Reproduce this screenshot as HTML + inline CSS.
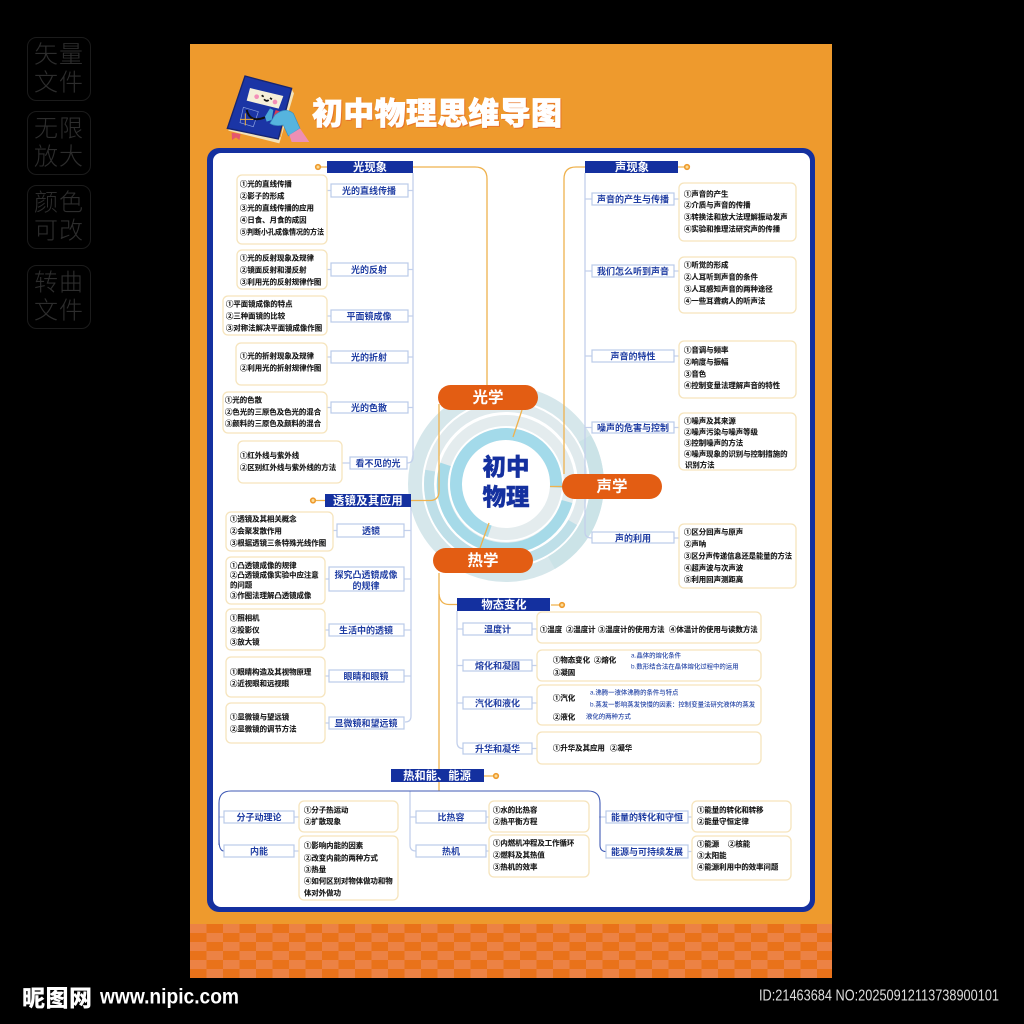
<!DOCTYPE html>
<html lang="zh"><head><meta charset="utf-8"><title>初中物理思维导图</title>
<style>
html,body{margin:0;padding:0;background:#000;width:1024px;height:1024px;overflow:hidden}
svg{display:block;font-family:"Liberation Sans","Noto Sans CJK SC",sans-serif}
text{dominant-baseline:central}
.t text,.t{font-size:7.4px;font-weight:700;fill:#161616;stroke:#161616;stroke-width:.12}
.l text{font-size:9px;font-weight:700;fill:#1F3DA3;text-anchor:middle;transform:translateY(.5px)}
.lb rect{fill:#fff;stroke:#BBCBE8;stroke-width:1.2}
.bx rect{fill:#fff;stroke:#F6E4BC;stroke-width:1.3}
.h rect{fill:#14309F}
.h text{font-size:11.3px;font-weight:700;fill:#fff;text-anchor:middle;transform:translateY(1px)}
.p rect{fill:#E35D13}
.p text{font-size:15.5px;font-weight:700;fill:#fff;text-anchor:middle;transform:translateY(1px)}
.o{fill:none;stroke:#EFB24E;stroke-width:1.3}
.c{fill:none;stroke:#C3D0EC;stroke-width:1.3}
.d{fill:none;stroke:#3F5AB5;stroke-width:1.1}
.n circle{fill:#FBDC97;stroke:#EE9A2D;stroke-width:1.6}
.b text{font-size:6.4px;font-weight:500;fill:#2A49A8}
.w text{font-size:24px;font-weight:300;fill:#2D2D2D}
.w rect{fill:none;stroke:#1B1B1B;stroke-width:1}
</style></head><body>
<svg width="1024" height="1024" viewBox="0 0 1024 1024" xmlns="http://www.w3.org/2000/svg">
<defs>
<pattern id="ck" x="190" y="924" width="33" height="18" patternUnits="userSpaceOnUse">
<rect width="33" height="18" fill="#EC8244"/>
<rect x="16.5" width="16.5" height="9" fill="#E9721A"/>
<rect y="9" width="16.5" height="9" fill="#E9721A"/>
</pattern>
</defs>
<rect width="1024" height="1024" fill="#000"/>

<g class="w">
<rect x="27.5" y="37.5" width="63" height="63" rx="9"/><rect x="27.5" y="111.5" width="63" height="63" rx="9"/><rect x="27.5" y="185.5" width="63" height="63" rx="9"/><rect x="27.5" y="265.5" width="63" height="63" rx="9"/>
<text x="34" y="55">矢</text><text x="59" y="55">量</text><text x="34" y="83">文</text><text x="59" y="83">件</text>
<text x="34" y="129">无</text><text x="59" y="129">限</text><text x="34" y="157">放</text><text x="59" y="157">大</text>
<text x="34" y="203">颜</text><text x="59" y="203">色</text><text x="34" y="231">可</text><text x="59" y="231">改</text>
<text x="34" y="283">转</text><text x="59" y="283">曲</text><text x="34" y="311">文</text><text x="59" y="311">件</text>
</g>

<rect x="190" y="44" width="642" height="934" fill="#EE9A2D"/>
<rect x="190" y="924" width="642" height="54" fill="url(#ck)"/>

<!-- book icon -->
<g transform="translate(190,60) scale(.3333)">
<path d="M115 212 L268 250 L312 100 L302 82 L272 232 L118 198Z" fill="#F3E2B8"/>
<path d="M165 48 L305 85 L265 237 L112 205Z" fill="#1B35A5" stroke="#16246F" stroke-width="4"/>
<path d="M180 84 L280 108 L266 146 L170 122Z" fill="#F5EFD9"/>
<circle cx="200" cy="110" r="7" fill="#F48FB8"/><circle cx="255" cy="126" r="7" fill="#F48FB8"/>
<path d="M215 106 l6 4 M240 114 l6 4 M222 118 q8 8 14 2" stroke="#111" stroke-width="5" fill="none"/>
<path d="M160 142 L205 155 L190 200 L150 188Z" fill="none" stroke="#8FA4E0" stroke-width="2"/>
<path d="M170 150 Q180 190 225 172" fill="none" stroke="#111" stroke-width="6"/>
<path d="M150 178 H190 M166 160 V196" stroke="#F2B23E" stroke-width="3"/>
<path d="M125 218 L152 222 L148 240 L138 232 L126 240Z" fill="#E5566D"/>
<path d="M225 170 l15 -25 l10 5 l-5 30 l-15 5Z" fill="#4AA8D8"/>
<path d="M245 185 l12 -35 l12 4 l-6 40 Z" fill="#D93A52"/>
<path d="M255 165 Q285 140 310 160 L330 205 L295 228 L280 195 Q255 200 240 190Z" fill="#56B4DE" stroke="#3A8FC0" stroke-width="2"/>
<path d="M298 225 L330 205 L358 246 L305 246Z" fill="#EE8FB4"/>
</g>
<text x="313" y="115" font-size="31" font-weight="900" fill="#E8762A" stroke="#E8762A" stroke-width=".8" textLength="250">初中物理思维导图</text>
<text x="312" y="114" font-size="31" font-weight="900" fill="#fff" stroke="#fff" stroke-width=".7" textLength="250">初中物理思维导图</text>

<!-- panel -->
<rect x="207" y="148" width="608" height="764" rx="12" fill="#14309F"/>
<rect x="213" y="153" width="597" height="754" rx="8" fill="#fff"/>

<!-- rings -->
<g fill="none">
<circle cx="506" cy="484" r="91" stroke="#D6E7EB" stroke-width="14"/>
<path d="M584.8 438.5 A91 91 0 0 1 551.5 562.8" stroke="#CBE3E7" stroke-width="14"/>
<circle cx="506" cy="484" r="77" stroke="#E0EAED" stroke-width="10"/>
<path d="M572.7 522.5 A77 77 0 0 1 430.2 470.6" stroke="#BEDFE8" stroke-width="10"/>
<circle cx="506" cy="484" r="63.5" stroke="#E4ECEE" stroke-width="11"/>
<path d="M567 501.5 A63.5 63.5 0 1 1 445.6 464.4" stroke="#A6DAE8" stroke-width="11"/>
<circle cx="506" cy="484" r="50" stroke="#E4ECEE" stroke-width="12"/>
<path d="M489.7 531.3 A50 50 0 1 1 555.9 487.5" stroke="#A3DAEA" stroke-width="12"/>
</g>
<text x="506" y="467" font-size="23.5" font-weight="900" fill="#14309F" text-anchor="middle" stroke="#14309F" stroke-width=".4">初中</text>
<text x="506" y="497" font-size="23.5" font-weight="900" fill="#14309F" text-anchor="middle" stroke="#14309F" stroke-width=".4">物理</text>

<!-- orange connectors -->
<g class="o">
<path d="M413 167 H475 Q487 167 487 179 V385"/>
<path d="M411 500.5 H430 Q439 500.5 439 491 V404"/>
<path d="M522 410 L513 437"/>
<path d="M550 486.5 H562"/>
<path d="M564 474 V179 Q564 167 576 167 H585"/>
<path d="M480 548 L489 523"/>
<path d="M439 573 V791"/>
<path d="M439 594 Q440 604.5 449 604.5 H457"/>
</g>

<!-- light blue connectors -->
<g class="c">
<path d="M413 173 V457 Q413 463 407 463"/>
<path d="M408 190.5 H413 M408 269.5 H413 M408 316 H413 M408 357 H413 M408 407.5 H413"/>
<path d="M327 190.5 H331 M327 269.5 H331 M327 316 H331 M327 357 H331 M327 407.5 H331 M342 463 H350"/>
<path d="M411 507 V716 Q411 722 405 722"/>
<path d="M404 530.5 H411 M404 579 H411 M404 630 H411 M404 676 H411"/>
<path d="M333 530.5 H337 M325 579 H329 M325 630 H329 M325 676 H329 M325 723 H329"/>
<path d="M585 173 V532 Q585 538 592 538"/>
<path d="M585 199 H592 M585 271 H592 M585 356 H592 M585 427.5 H592"/>
<path d="M674 199 H679 M674 271 H679 M674 356 H679 M674 427.5 H679 M674 538 H679"/>
<path d="M457 611 V742 Q457 748.500 463 748.500"/>
<path d="M457 629 H463 M457 665.500 H463 M457 703 H463"/>
<path d="M532 629 H537 M532 665.500 H537 M532 703 H537 M532 748.500 H537"/>
<path d="M219 817 H224 M294 817 H299 M294 851 H299 M410 817 H416 M486 817 H489 M486 851 H489 M599 817 H606 M688 817 H692 M688 851.500 H692"/>
<path d="M410 791 V845 Q410 851 416 851"/>
</g>
<g class="d">
<path d="M219 845 V803 Q219 791 231 791 H588 Q600 791 600 803 V845 Q600 851.500 606 851.500"/>
<path d="M219 840 Q219 851 224 851"/>
</g>

<!-- orange nodes -->
<g class="o"><path d="M320 167 H327 M316 500.500 H325 M678 167 H685 M551 605 H559 M484 776 H493"/></g>
<g class="n"><circle cx="318" cy="167" r="2.3"/><circle cx="313" cy="500.500" r="2.3"/><circle cx="687" cy="167" r="2.300"/><circle cx="562" cy="605" r="2.300"/><circle cx="496" cy="776" r="2.300"/></g>

<!-- headers -->
<g class="h">
<rect x="327" y="161" width="86" height="12"/><text x="370" y="167">光现象</text>
<rect x="325" y="494" width="86" height="13"/><text x="368" y="500.500" letter-spacing=".4">透镜及其应用</text>
<rect x="585" y="161" width="93" height="12"/><text x="632" y="167">声现象</text>
<rect x="457" y="598" width="93" height="13"/><text x="504" y="604.500">物态变化</text>
<rect x="391" y="769" width="93" height="13"/><text x="437" y="775.500">热和能、能源</text>
</g>

<!-- pills -->
<g class="p">
<rect x="438" y="385" width="100" height="25" rx="12.500"/><text x="488" y="397">光学</text>
<rect x="562" y="474" width="100" height="25" rx="12.500"/><text x="612" y="486">声学</text>
<rect x="433" y="548" width="100" height="25" rx="12.500"/><text x="483" y="560">热学</text>
</g>

<!-- label boxes -->
<g class="lb">
<rect x="331" y="184" width="77" height="13"/><rect x="331" y="263" width="77" height="13"/><rect x="331" y="310" width="77" height="12"/><rect x="331" y="351" width="77" height="12"/><rect x="331" y="402" width="77" height="11"/><rect x="350" y="457" width="57" height="12"/>
<rect x="337" y="524" width="67" height="13"/><rect x="329" y="567" width="75" height="24"/><rect x="329" y="624" width="75" height="12"/><rect x="329" y="670" width="75" height="12"/><rect x="329" y="717" width="75" height="12"/>
<rect x="592" y="193" width="82" height="12"/><rect x="592" y="265" width="82" height="12"/><rect x="592" y="350" width="82" height="12"/><rect x="592" y="422" width="82" height="11"/><rect x="592" y="532" width="82" height="11"/>
<rect x="463" y="623" width="69" height="12"/><rect x="463" y="660" width="69" height="11"/><rect x="463" y="697" width="69" height="12"/><rect x="463" y="743" width="69" height="11"/>
<rect x="224" y="811" width="70" height="12"/><rect x="224" y="845" width="70" height="12"/><rect x="416" y="811" width="70" height="12"/><rect x="416" y="845" width="70" height="12"/>
<rect x="606" y="811" width="82" height="12"/><rect x="606" y="845" width="82" height="13"/>
</g>
<g class="l">
<text x="369" y="190.500">光的直线传播</text><text x="369" y="269.500">光的反射</text><text x="369" y="316">平面镜成像</text><text x="369" y="357">光的折射</text><text x="369" y="407.500">光的色散</text><text x="378" y="463">看不见的光</text>
<text x="371" y="530.500">透镜</text><text x="366" y="574.500">探究凸透镜成像</text><text x="366" y="585.500">的规律</text><text x="366" y="630">生活中的透镜</text><text x="366" y="676">眼睛和眼镜</text><text x="366" y="723">显微镜和望远镜</text>
<text x="633" y="199">声音的产生与传播</text><text x="633" y="271">我们怎么听到声音</text><text x="633" y="356">声音的特性</text><text x="633" y="427.500">噪声的危害与控制</text><text x="633" y="538">声的利用</text>
<text x="497.500" y="629">温度计</text><text x="497.500" y="665.500">熔化和凝固</text><text x="497.500" y="703">汽化和液化</text><text x="497.500" y="748.500">升华和凝华</text>
<text x="259" y="817">分子动理论</text><text x="259" y="851">内能</text><text x="451" y="817">比热容</text><text x="451" y="851">热机</text>
<text x="647" y="817">能量的转化和守恒</text><text x="647" y="851.500">能源与可持续发展</text>
</g>

<!-- text boxes -->
<g class="bx">
<rect x="237" y="175" width="90" height="69" rx="5"/><rect x="237" y="250" width="90" height="39" rx="5"/><rect x="223" y="296" width="104" height="39" rx="5"/><rect x="236" y="343" width="91" height="42" rx="5"/><rect x="223" y="392" width="104" height="41" rx="5"/><rect x="238" y="441" width="104" height="42" rx="5"/>
<rect x="226" y="512" width="107" height="39" rx="5"/><rect x="226" y="557" width="99" height="47" rx="5"/><rect x="226" y="609" width="99" height="41" rx="5"/><rect x="226" y="657" width="99" height="40" rx="5"/><rect x="226" y="703" width="99" height="40" rx="5"/>
<rect x="679" y="183" width="117" height="58" rx="5"/><rect x="679" y="257" width="117" height="56" rx="5"/><rect x="679" y="341" width="117" height="57" rx="5"/><rect x="679" y="413" width="117" height="57" rx="5"/><rect x="679" y="524" width="117" height="64" rx="5"/>
<rect x="537" y="612" width="224" height="31" rx="5"/><rect x="537" y="650" width="224" height="31" rx="5"/><rect x="537" y="685" width="224" height="40" rx="5"/><rect x="537" y="732" width="224" height="32" rx="5"/>
<rect x="299" y="801" width="99" height="31" rx="5"/><rect x="299" y="836" width="99" height="64" rx="5"/><rect x="489" y="801" width="100" height="31" rx="5"/><rect x="489" y="835" width="100" height="42" rx="5"/>
<rect x="692" y="801" width="99" height="31" rx="5"/><rect x="692" y="836" width="99" height="44" rx="5"/>
</g>

<g class="t">
<text x="240" y="184">①光的直线传播</text><text x="240" y="196">②影子的形成</text><text x="240" y="208">③光的直线传播的应用</text><text x="240" y="220">④日食、月食的成因</text><text x="240" y="232" textLength="84" lengthAdjust="spacingAndGlyphs">⑤判断小孔成像情况的方法</text>
<text x="240" y="258">①光的反射现象及规律</text><text x="240" y="270">②镜面反射和漫反射</text><text x="240" y="282">③利用光的反射规律作图</text>
<text x="226" y="304">①平面镜成像的特点</text><text x="226" y="316">②三种面镜的比较</text><text x="226" y="328">③对称法解决平面镜成像作图</text>
<text x="240" y="356">①光的折射现象及规律</text><text x="240" y="368">②利用光的折射规律作图</text>
<text x="225" y="400">①光的色散</text><text x="225" y="412">②色光的三原色及色光的混合</text><text x="225" y="423.500">③颜料的三原色及颜料的混合</text>
<text x="240" y="455.500">①红外线与紫外线</text><text x="240" y="467.500">②区别红外线与紫外线的方法</text>
<text x="230" y="519">①透镜及其相关概念</text><text x="230" y="531">②会聚发散作用</text><text x="230" y="543">③根据透镜三条特殊光线作图</text>
<text x="230" y="565.500">①凸透镜成像的规律</text><text x="230" y="575">②凸透镜成像实验中应注意</text><text x="230" y="585">的问题</text><text x="230" y="595.500">③作图法理解凸透镜成像</text>
<text x="230" y="618">①照相机</text><text x="230" y="630">②投影仪</text><text x="230" y="642">③放大镜</text>
<text x="230" y="672">①眼睛构造及其视物原理</text><text x="230" y="683.500">②近视眼和远视眼</text>
<text x="230" y="717">①显微镜与望远镜</text><text x="230" y="729">②显微镜的调节方法</text>
<text x="684" y="194">①声音的产生</text><text x="684" y="205">②介质与声音的传播</text><text x="684" y="217">③转换法和放大法理解振动发声</text><text x="684" y="229">④实验和推理法研究声的传播</text>
<text x="684" y="265">①听觉的形成</text><text x="684" y="277">②人耳听到声音的条件</text><text x="684" y="289">③人耳感知声音的两种途径</text><text x="684" y="301">④一些耳聋病人的听声法</text>
<text x="684" y="350">①音调与频率</text><text x="684" y="362">②响度与振幅</text><text x="684" y="374">③音色</text><text x="684" y="385.500">④控制变量法理解声音的特性</text>
<text x="684" y="421">①噪声及其来源</text><text x="684" y="432">②噪声污染与噪声等级</text><text x="684" y="443">③控制噪声的方法</text><text x="684" y="454">④噪声现象的识别与控制措施的</text><text x="685" y="465">识别方法</text>
<text x="684" y="532">①区分回声与原声</text><text x="684" y="544">②声呐</text><text x="684" y="556" textLength="108" lengthAdjust="spacingAndGlyphs">③区分声传递信息还是能量的方法</text><text x="684" y="568">④超声波与次声波</text><text x="684" y="579.500">⑤利用回声测距离</text>
<text x="540" y="629.500">①温度</text><text x="566" y="629.500">②温度计</text><text x="598" y="629.500">③温度计的使用方法</text><text x="669" y="629.500">④体温计的使用与读数方法</text>
<text x="553" y="660">①物态变化</text><text x="594" y="660">②熔化</text><text x="553" y="672.500">③凝固</text>
<text x="553" y="698">①汽化</text><text x="553" y="717">②液化</text>
<text x="553" y="748">①升华及其应用</text><text x="610" y="748">②凝华</text>
<text x="304" y="810">①分子热运动</text><text x="304" y="821.500">②扩散现象</text>
<text x="304" y="845.500">①影响内能的因素</text><text x="304" y="858">②改变内能的两种方式</text><text x="304" y="869.500">③热量</text><text x="304" y="881">④如何区别对物体做功和物</text><text x="304" y="893">体对外做功</text>
<text x="493" y="810">①水的比热容</text><text x="493" y="821.500">②热平衡方程</text>
<text x="493" y="843">①内燃机冲程及工作循环</text><text x="493" y="855">②燃料及其热值</text><text x="493" y="867">③热机的效率</text>
<text x="697" y="810">①能量的转化和转移</text><text x="697" y="821.500">②能量守恒定律</text>
<text x="697" y="844">①能源</text><text x="728" y="844">②核能</text><text x="697" y="855.500">③太阳能</text><text x="697" y="867">④能源利用中的效率问题</text>
</g>
<g class="b">
<text x="631" y="656">a.晶体的熔化条件</text><text x="631" y="667">b.数形结合法在晶体熔化过程中的运用</text>
<text x="590" y="693">a.沸腾一液体沸腾的条件与特点</text><text x="590" y="705">b.蒸发一影响蒸发快慢的因素：控制变量法研究液体的蒸发</text><text x="586" y="717">液化的两种方式</text>
</g>

<!-- footer -->
<text x="22" y="996" font-size="23" font-weight="900" fill="#fff" textLength="70" font-family="'Noto Sans CJK SC',sans-serif">昵图网</text>
<text x="100" y="997" font-size="21" font-weight="700" fill="#fff" textLength="139" lengthAdjust="spacingAndGlyphs">www.nipic.com</text>
<text x="759" y="996" font-size="16" fill="#ddd" textLength="240" lengthAdjust="spacingAndGlyphs">ID:21463684 NO:20250912113738900101</text>
</svg>
</body></html>
